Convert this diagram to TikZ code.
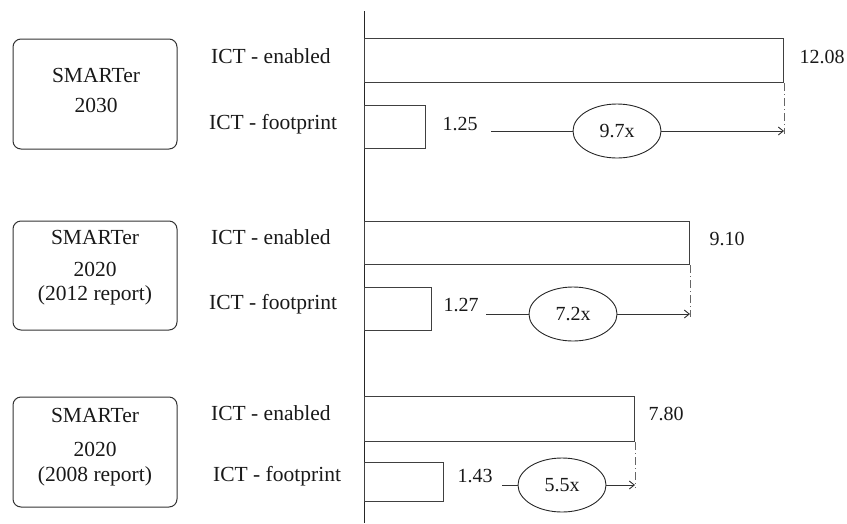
\documentclass[tikz,border=0pt]{standalone}
\usepackage{fontspec}
\setmainfont{Liberation Serif}
\usetikzlibrary{shapes.geometric,arrows.meta}
\begin{document}
\begin{tikzpicture}[x=1pt,y=-1pt,
  every node/.style={font=\fontsize{21.5}{25}\selectfont, text=black!90},
  numfont/.style={font=\fontsize{20}{24}\selectfont},
  txt/.style={inner sep=0pt, text height=1.5ex, text depth=0.25ex},
  groupbox/.style={draw=black!80, line width=1pt, rounded corners=8pt, inner sep=0pt, align=center},
  bar/.style={draw=black!75, line width=1pt, inner sep=0pt, anchor=north west},
  ratio/.style={draw=black!85, line width=0.9pt, ellipse, inner sep=0pt, minimum width=88pt, minimum height=54pt},
  conn/.style={draw=black!80, line width=0.9pt},
  arr/.style={conn, -{Straight Barb[length=5pt,width=8pt]}},
  guide/.style={draw=black!60, line width=0.9pt, dash pattern=on 8pt off 3pt on 1pt off 3pt}]
\useasboundingbox (0,0) rectangle (847,523);
% axis
\draw[black!85, line width=1pt] (364,11) -- (364,523);

% ---------- Panel 1: SMARTer 2030 ----------
\node[groupbox, minimum width=164pt, minimum height=110pt] (g1) at (95,94) {};
\node[txt] (g1a) at (96,80) {SMARTer};
\node[txt] (g1b) at (96,110) {2030};
\node[txt, anchor=west] (l1a) at (211,61) {ICT - enabled};
\node[txt, anchor=west] (l1b) at (209,127) {ICT - footprint};
\node[bar, minimum width=419pt, minimum height=44pt] (e1) at (364,38) {};
\node[bar, minimum width=61pt, minimum height=43pt] (f1) at (364,105) {};
\node[txt, numfont] (v1a) at (822,61) {12.08};
\node[txt, numfont] (v1b) at (460,128) {1.25};
\node[ratio, numfont] (r1) at (617,131) {9.7x};
\coordinate (s1) at (491,131);
\coordinate (t1) at (e1.south east |- r1.east);
\draw[conn] (s1) -- (r1.west);
\draw[arr] (r1.east) -- (t1);
\draw[guide] (e1.south east) -- ([yshift=-3pt]t1);

% ---------- Panel 2: SMARTer 2020 (2012 report) ----------
\node[groupbox, minimum width=164pt, minimum height=109pt] (g2) at (95,275.5) {};
\node[txt] (g2a) at (95,242) {SMARTer};
\node[txt] (g2b) at (95,274) {2020};
\node[txt] (g2c) at (95,298) {(2012 report)};
\node[txt, anchor=west] (l2a) at (211,242) {ICT - enabled};
\node[txt, anchor=west] (l2b) at (209,307) {ICT - footprint};
\node[bar, minimum width=325pt, minimum height=43pt] (e2) at (364,221) {};
\node[bar, minimum width=67pt, minimum height=43pt] (f2) at (364,287) {};
\node[txt, numfont] (v2a) at (727,243) {9.10};
\node[txt, numfont] (v2b) at (461,309) {1.27};
\node[ratio, numfont] (r2) at (573,314) {7.2x};
\coordinate (s2) at (486,314);
\coordinate (t2) at (e2.south east |- r2.east);
\draw[conn] (s2) -- (r2.west);
\draw[arr] (r2.east) -- (t2);
\draw[guide] (e2.south east) -- ([yshift=-3pt]t2);

% ---------- Panel 3: SMARTer 2020 (2008 report) ----------
\node[groupbox, minimum width=164pt, minimum height=110pt] (g3) at (95,452) {};
\node[txt] (g3a) at (95,420) {SMARTer};
\node[txt] (g3b) at (95,454) {2020};
\node[txt] (g3c) at (95,479) {(2008 report)};
\node[txt, anchor=west] (l3a) at (211,418) {ICT - enabled};
\node[txt, anchor=west] (l3b) at (213,479) {ICT - footprint};
\node[bar, minimum width=270pt, minimum height=45pt] (e3) at (364,396) {};
\node[bar, minimum width=79pt, minimum height=39pt] (f3) at (364,462) {};
\node[txt, numfont] (v3a) at (666,418) {7.80};
\node[txt, numfont] (v3b) at (475,480) {1.43};
\node[ratio, numfont] (r3) at (562,485) {5.5x};
\coordinate (s3) at (502,485);
\coordinate (t3) at (e3.south east |- r3.east);
\draw[conn] (s3) -- (r3.west);
\draw[arr] (r3.east) -- (t3);
\draw[guide] (e3.south east) -- ([yshift=-3pt]t3);
\end{tikzpicture}
\end{document}
